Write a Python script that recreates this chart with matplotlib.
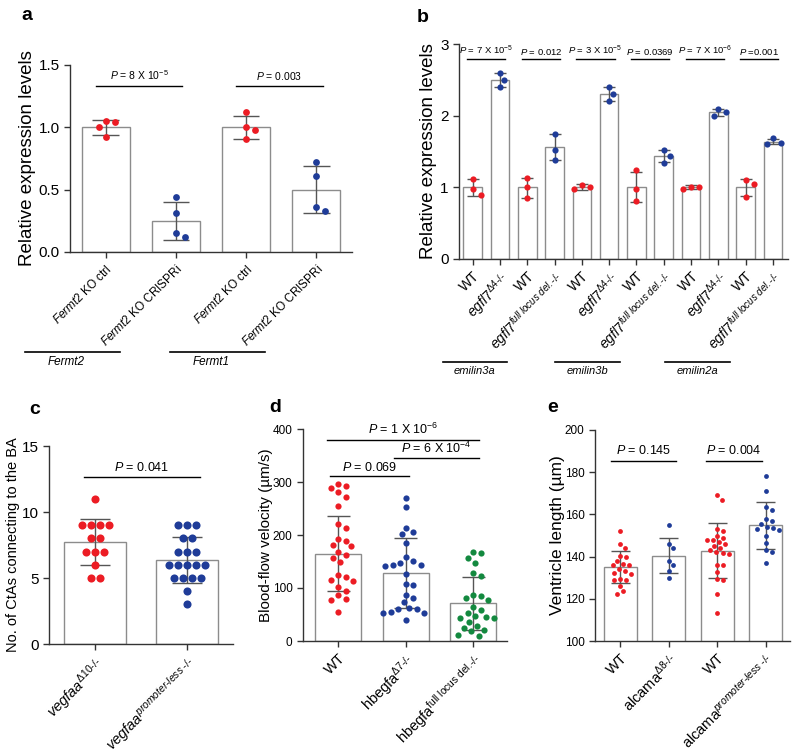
import matplotlib.pyplot as plt
import numpy as np
from matplotlib.lines import Line2D

plt.rcParams['font.family'] = ['Liberation Sans', 'DejaVu Sans']
plt.rcParams['mathtext.fontset'] = 'custom'
plt.rcParams['mathtext.rm'] = 'Liberation Sans'
plt.rcParams['mathtext.it'] = 'Liberation Sans:italic'
plt.rcParams['mathtext.bf'] = 'Liberation Sans:bold'

RED = '#ec1c24'
BLUE = '#1f3c98'
GREEN = '#13893f'
BAR_EDGE = '#8c8c8c'
ERR = '#555555'
AXC = '#333333'

# ---- panel a data
a_labels = [r'$\mathit{Fermt2}$ KO ctrl', r'$\mathit{Fermt2}$ KO CRISPRi',
            r'$\mathit{Fermt2}$ KO ctrl', r'$\mathit{Fermt2}$ KO CRISPRi']
a_means = [1.0, 0.25, 1.0, 0.5]
a_lo = [0.94, 0.10, 0.91, 0.31]
a_hi = [1.06, 0.40, 1.09, 0.69]
a_pts = [[1.04, 1.05, 1.00, 0.92], [0.44, 0.31, 0.12, 0.15],
         [1.12, 1.00, 0.98, 0.91], [0.72, 0.61, 0.33, 0.36]]
a_groups = ['Fermt2', 'Fermt1']
a_pvals = [r'$\mathit{P}$ = 8 X 10$^{-5}$', r'$\mathit{P}$ = 0.003']

# ---- panel b data
d4 = r'$\mathit{egfl7}^{\Delta4\text{-/-}}$'
fl = r'$\mathit{egfl7}^{\mathit{full\ locus\ del.}\text{-/-}}$'
b_labels = ['WT', d4, 'WT', fl, 'WT', d4, 'WT', fl, 'WT', d4, 'WT', fl]
b_means = [1.0, 2.5, 1.0, 1.56, 1.0, 2.3, 1.01, 1.44, 1.0, 2.05, 1.0, 1.63]
b_lo = [0.88, 2.40, 0.85, 1.38, 0.96, 2.20, 0.80, 1.35, 0.97, 2.00, 0.88, 1.60]
b_hi = [1.12, 2.60, 1.13, 1.75, 1.04, 2.40, 1.22, 1.52, 1.03, 2.10, 1.12, 1.68]
b_pts = [[1.12, 0.90, 0.97], [2.60, 2.50, 2.40], [1.13, 1.00, 0.85],
         [1.75, 1.52, 1.38], [1.03, 0.97, 1.00], [2.40, 2.30, 2.20],
         [1.24, 0.97, 0.81], [1.52, 1.44, 1.34], [1.01, 0.97, 1.01],
         [2.10, 2.00, 2.05], [1.10, 1.04, 0.87], [1.69, 1.61, 1.62]]
b_groups = ['emilin3a', 'emilin3b', 'emilin2a']
b_pvals = [r'$\mathit{P}$ = 7 X 10$^{-5}$', r'$\mathit{P}$ = 0.012',
           r'$\mathit{P}$ = 3 X 10$^{-5}$', r'$\mathit{P}$ = 0.0369',
           r'$\mathit{P}$ = 7 X 10$^{-6}$', r'$\mathit{P}$ =0.001']

# ---- panel c data
c_labels = [r'$\mathit{vegfaa}^{\mathit{\Delta10}\text{-/-}}$',
            r'$\mathit{vegfaa}^{\mathit{promoter}\text{-}\mathit{less}\ \text{-/-}}$']
c_means = [7.7, 6.4]
c_lo = [5.95, 4.65]
c_hi = [9.45, 8.1]
c_pts = [[11, 9, 9, 9, 9, 8, 8, 7, 7, 7, 6, 5, 5],
         [9, 9, 9, 8, 8, 7, 7, 7, 6, 6, 6, 6, 6, 5, 5, 5, 5, 4, 3]]

# ---- panel d data
d_labels = ['WT', r'hbegfa$^{\Delta7\text{-/-}}$', r'hbegfa$^{\text{full locus del.-/-}}$']
d_means = [165, 129, 71]
d_lo = [94, 63, 21]
d_hi = [236, 194, 120]
d_pts = [[296, 292, 289, 281, 272, 255, 221, 214, 192, 189, 182, 179, 167, 163,
          157, 150, 124, 121, 116, 114, 102, 95, 86, 79, 78, 55],
         [269, 253, 214, 206, 201, 185, 159, 151, 147, 144, 143, 142, 126, 107,
          106, 87, 82, 73, 62, 61, 60, 54, 53, 53, 40],
         [167, 166, 157, 148, 129, 122, 86, 85, 82, 77, 64, 58, 52, 48, 46, 44,
          43, 36, 28, 24, 21, 18, 12, 10]]

# ---- panel e data
e_labels = ['WT', r'alcama$^{\mathit{\Delta8}\text{-/-}}$', 'WT',
            r'alcama$^{\mathit{promoter}\text{-}\mathit{less}\ \text{-/-}}$']
e_means = [135.1, 140.2, 142.5, 154.9]
e_lo = [127.5, 132.0, 129.8, 143.8]
e_hi = [142.5, 148.6, 155.7, 165.9]
e_pts = [[152, 146, 144, 140.5, 140, 138, 136, 136.3, 136, 134, 133, 132, 131.6,
          129.4, 129, 129, 126, 123.5, 122.4],
         [155, 146, 144, 138, 136, 133, 130],
         [169, 167, 153, 152, 150, 149, 148, 148, 147, 146, 145, 144, 143, 142,
          141.5, 141, 136, 136, 132.5, 129.4, 129, 122.4, 113.5],
         [178, 171, 163.5, 162, 157.6, 157, 155.4, 154, 153.7, 153, 152.5, 149.7,
          146.5, 143, 142, 137]]

fig = plt.figure(figsize=(8, 7.56), dpi=100)


def px_axes(l, t, r, b):
    return fig.add_axes([l / 800, 1 - b / 756, (r - l) / 800, (b - t) / 756])


def style(ax, fs):
    for s in ['top', 'right']:
        ax.spines[s].set_visible(False)
    for s in ['left', 'bottom']:
        ax.spines[s].set_color(AXC)
        ax.spines[s].set_linewidth(1.0)
    ax.tick_params(colors=AXC, labelcolor='black', labelsize=fs, length=4, width=1)


def swarm(ax, xc, vals, diam):
    # greedy beeswarm in pixel space
    vals = np.asarray(vals, float)
    pts = ax.transData.transform(np.column_stack([np.full(len(vals), xc), vals]))
    x0 = pts[0, 0]
    ypx = pts[:, 1]
    cands = [0.0]
    for k in range(1, 80):
        cands += [k * diam * 0.25, -k * diam * 0.25]
    placed = []
    xs = np.empty(len(vals))
    for i in np.argsort(-vals, kind='stable'):
        for c in cands:
            if all((c - p) ** 2 + (ypx[i] - q) ** 2 >= diam ** 2 for p, q in placed):
                break
        placed.append((c, ypx[i]))
        xs[i] = x0 + c
    return ax.transData.inverted().transform(np.column_stack([xs, vals]))[:, 0]


def rows(ax, xc, vals, diam):
    # tied values centred in a row
    vals = np.asarray(vals, float)
    dx = ax.transData.inverted().transform([(diam, 0)])[0, 0] - \
        ax.transData.inverted().transform([(0, 0)])[0, 0]
    xs = np.empty(len(vals))
    for v in np.unique(vals):
        idx = np.where(vals == v)[0]
        n = len(idx)
        xs[idx] = xc + (np.arange(n) - (n - 1) / 2) * dx
    return xs


def bars(ax, means, lo, hi, pts, colors, cap, s, diam, layout=swarm):
    xs = np.arange(len(means))
    ax.bar(xs, means, width=0.68, facecolor='white', edgecolor=BAR_EDGE,
           linewidth=1.0, zorder=1)
    for x, l, h, p, c in zip(xs, lo, hi, pts, colors):
        ax.vlines(x, l, h, color=ERR, lw=1.0, zorder=2)
        ax.hlines([l, h], x - cap, x + cap, color=ERR, lw=1.0, zorder=2)
        ax.scatter(layout(ax, x, p, diam), p, s=s, color=c, zorder=3, linewidths=0)


def pline(ax, x0, x1, y, text, fs, dy):
    ax.plot([x0, x1], [y, y], color='black', lw=1.0, clip_on=False)
    ax.text((x0 + x1) / 2, y + dy, text, ha='center', va='bottom', fontsize=fs)


def xlabels(ax, labels, fs):
    ax.set_xticks(np.arange(len(labels)))
    ax.set_xticklabels(labels, rotation=45, ha='right', rotation_mode='anchor', fontsize=fs)


def fig_line(x0, x1, y):
    fig.add_artist(Line2D([x0 / 800, x1 / 800], [1 - y / 756] * 2, color='black',
                          lw=1.2, transform=fig.transFigure))


# ---------------- a
ax = px_axes(70, 65, 352, 252)
ax.set_xlim(-0.51, 3.51)
ax.set_ylim(0, 1.5)
ax.set_yticks([0, 0.5, 1.0, 1.5])
ax.set_yticklabels(['0.0', '0.5', '1.0', '1.5'])
style(ax, 11)
bars(ax, a_means, a_lo, a_hi, a_pts, [RED, BLUE, RED, BLUE], 0.19, 24, 9.0)
xlabels(ax, a_labels, 8.5)
ax.set_ylabel('Relative expression levels', fontsize=13.5, labelpad=2)
pline(ax, -0.14, 1.09, 1.33, a_pvals[0], 7.5, 0.03)
pline(ax, 1.86, 3.09, 1.33, a_pvals[1], 7.5, 0.03)
fig_line(25, 120, 352)
fig_line(170, 265, 352)
fig.text(66 / 800, 1 - 362 / 756, a_groups[0], ha='center', va='center',
         fontsize=8.5, style='italic')
fig.text(211 / 800, 1 - 362 / 756, a_groups[1], ha='center', va='center',
         fontsize=8.5, style='italic')

# ---------------- b
ax = px_axes(459, 44, 788, 259)
ax.set_xlim(-0.5, 11.55)
ax.set_ylim(0, 3)
ax.set_yticks([0, 1, 2, 3])
style(ax, 11)
bars(ax, b_means, b_lo, b_hi, b_pts, [RED, BLUE] * 6, 0.22, 20, 8.0)
xlabels(ax, b_labels, 10)
ax.set_ylabel('Relative expression levels', fontsize=13.5, labelpad=2)
for i, t in enumerate(b_pvals):
    pline(ax, 2 * i - 0.2, 2 * i + 1.2, 2.79, t, 6.8, 0.03)
for (x0, x1), g in zip([(443, 507), (555, 620), (665, 730)], b_groups):
    fig_line(x0, x1, 362)
    fig.text((x0 + x1) / 2 / 800, 1 - 371 / 756, g, ha='center', va='center',
             fontsize=8, style='italic')

# ---------------- c
ax = px_axes(49, 446, 233, 644)
ax.set_xlim(-0.5, 1.5)
ax.set_ylim(0, 15)
ax.set_yticks([0, 5, 10, 15])
style(ax, 11)
bars(ax, c_means, c_lo, c_hi, c_pts, [RED, BLUE], 0.16, 34, 9.0, layout=rows)
xlabels(ax, c_labels, 10.5)
ax.set_ylabel('No. of CtAs connecting to the BA', fontsize=10.5, labelpad=1)
pline(ax, -0.12, 1.14, 12.65, r'$\mathit{P}$ = 0.041', 9, 0.25)

# ---------------- d
ax = px_axes(303, 429, 507, 641)
ax.set_xlim(-0.52, 2.5)
ax.set_ylim(0, 400)
ax.set_yticks([0, 100, 200, 300, 400])
style(ax, 8.5)
bars(ax, d_means, d_lo, d_hi, d_pts, [RED, BLUE, GREEN], 0.17, 20, 7.5)
xlabels(ax, d_labels, 10.5)
ax.set_ylabel('Blood-flow velocity (µm/s)', fontsize=11, labelpad=0)
pline(ax, -0.16, 2.09, 380, r'$\mathit{P}$ = 1 X 10$^{-6}$', 9, 4)
pline(ax, 0.83, 2.09, 344.6, r'$\mathit{P}$ = 6 X 10$^{-4}$', 9, 4)
pline(ax, -0.12, 1.05, 312, r'$\mathit{P}$ = 0.069', 9, 4)

# ---------------- e
ax = px_axes(595, 430, 790, 641)
ax.set_xlim(-0.52, 3.5)
ax.set_ylim(100, 200)
ax.set_yticks([100, 120, 140, 160, 180, 200])
style(ax, 8.5)
bars(ax, e_means, e_lo, e_hi, e_pts, [RED, BLUE, RED, BLUE], 0.2, 12, 6.0)
xlabels(ax, e_labels, 10.5)
ax.set_ylabel('Ventricle length (µm)', fontsize=12.5, labelpad=0)
pline(ax, -0.2, 1.15, 185.1, r'$\mathit{P}$ = 0.145', 9, 2)
pline(ax, 1.77, 2.93, 185.1, r'$\mathit{P}$ = 0.004', 9, 2)

# panel letters
for t, x, y in [('a', 27, 15), ('b', 423, 18), ('c', 35, 410), ('d', 275, 407), ('e', 553, 407)]:
    fig.text(x / 800, 1 - y / 756, t, fontsize=14, fontweight='bold', ha='center', va='center')

fig.savefig('out.png', dpi=100)
